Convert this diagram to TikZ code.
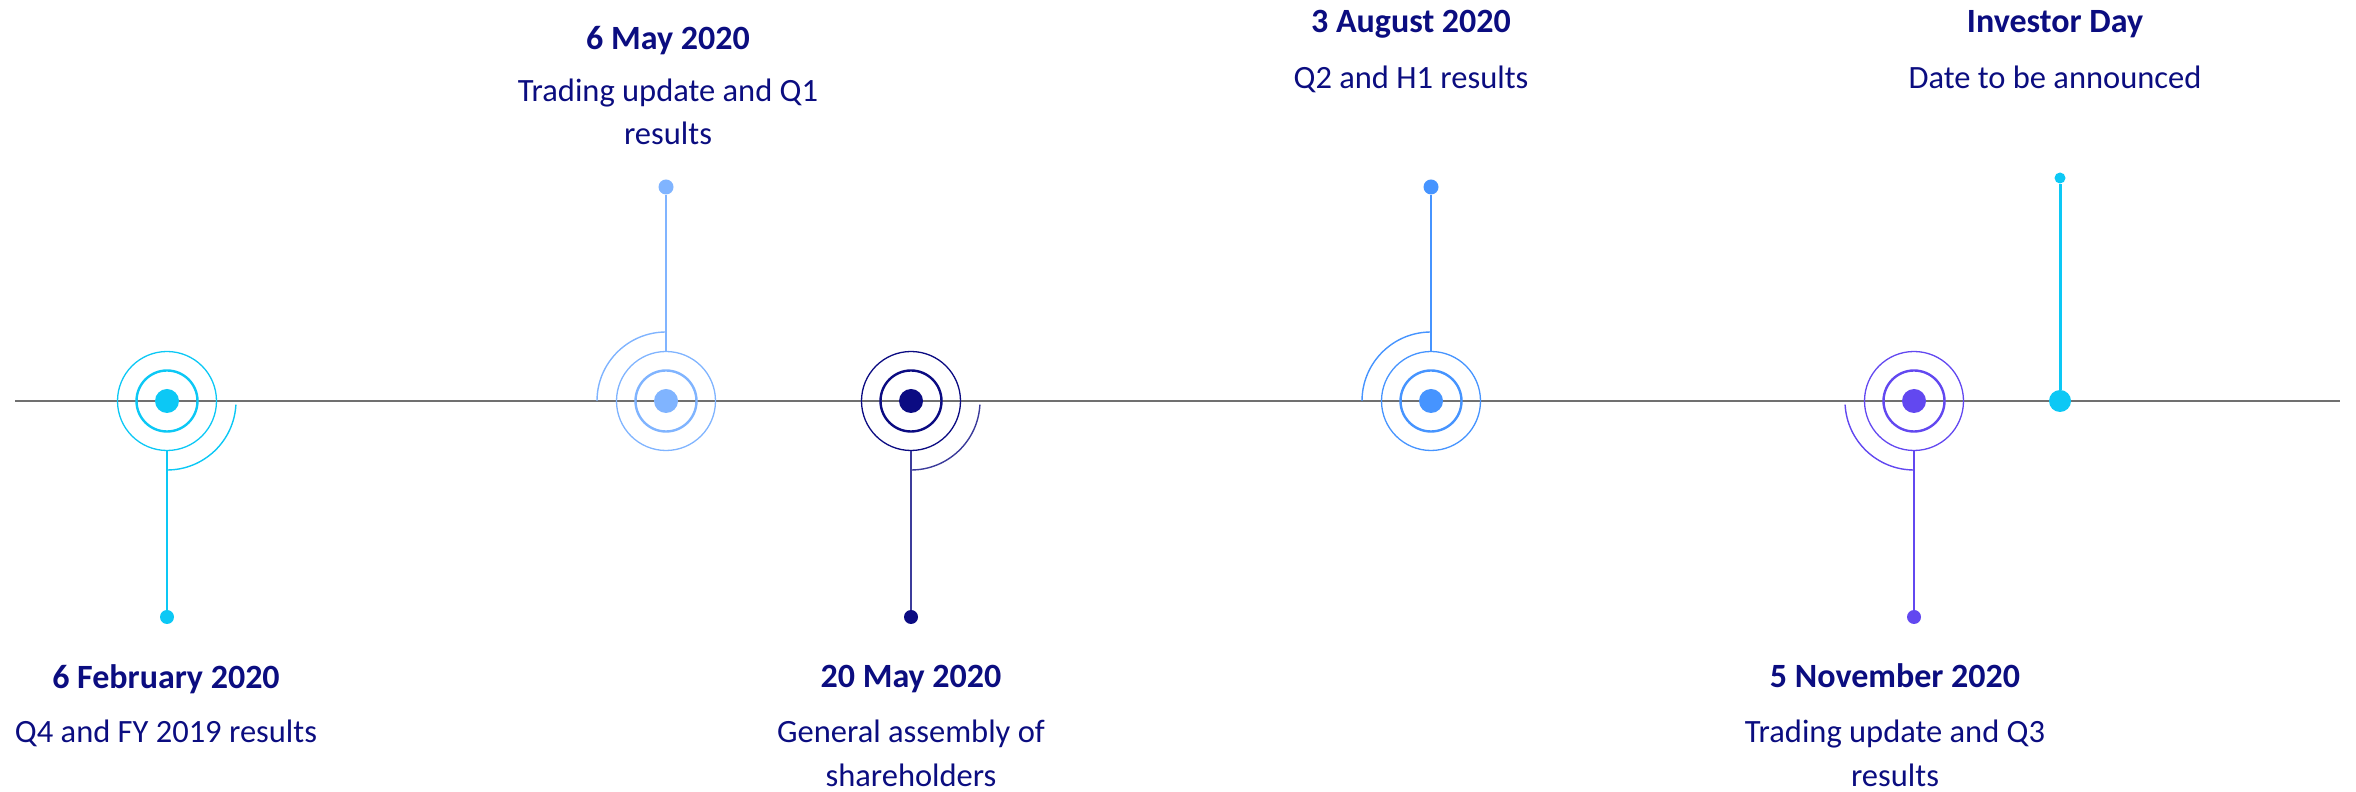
\documentclass[tikz,border=0pt]{standalone}
\usepackage{fontspec}
\setmainfont{Carlito}

% palette
\definecolor{ink}{HTML}{0B0D80}
\definecolor{axisgray}{HTML}{707070}
\definecolor{cyanev}{HTML}{0CC8F5}
\definecolor{skyev}{HTML}{80B4FF}
\definecolor{navyev}{HTML}{0B0B82}
\definecolor{blueev}{HTML}{4694FF}
\definecolor{violetev}{HTML}{6248F0}

\tikzset{
  axisline/.style={draw=axisgray, line width=1.5pt},
  outerring/.style={circle, line width=1.3pt, minimum size=99pt, inner sep=0pt},
  innerring/.style={circle, line width=2.4pt, minimum size=61pt, inner sep=0pt},
  coredot/.style={circle, minimum size=24pt, inner sep=0pt},
  enddot/.style={circle, minimum size=14pt, inner sep=0pt},
  stemline/.style={line width=1.5pt},
  spiral/.style={line width=1.4pt},
  datetitle/.style={font=\bfseries\fontsize{34}{41}\selectfont, text=ink, anchor=base, inner sep=0pt},
  eventtext/.style={font=\fontsize{32.5}{39}\selectfont, text=ink, anchor=base, inner sep=0pt},
}

% concentric marker: outer ring, inner ring and filled core
\newcommand\tlmarker[3]{%
  \node[outerring, draw=#3] (#1) at (#2,391) {};
  \node[innerring, draw=#3] (#1i) at (#2,391) {};
  \node[coredot, fill=#3] (#1c) at (#2,391) {};
}

\begin{document}
\begin{tikzpicture}[x=1pt,y=1pt]
\useasboundingbox (0,0) rectangle (2356,792);

% time axis
\coordinate (axL) at (15,391);
\coordinate (axR) at (2340,391);
\draw[axisline] (axL) -- (axR);

% 6 February 2020
\tlmarker{m1}{167}{cyanev}
\node[enddot, fill=cyanev] (e1) at (167,175) {};
\draw[stemline, cyanev] (m1.south) -- (e1);
\draw[spiral, cyanev] ([shift={(-3:69pt)}]m1.center) arc[start angle=-3, end angle=-90, radius=69pt];

% 6 May 2020
\tlmarker{m2}{666}{skyev}
\node[enddot, fill=skyev, minimum size=15pt] (e2) at (666,605) {};
\draw[stemline, skyev] (m2.north) -- (e2);
\draw[spiral, skyev] ([shift={(180:69pt)}]m2.center) arc[start angle=180, end angle=90, radius=69pt];

% 20 May 2020
\tlmarker{m3}{911}{navyev}
\node[enddot, fill=navyev] (e3) at (911,175) {};
\draw[stemline, navyev!80] (m3.south) -- (e3);
\draw[spiral, navyev!80] ([shift={(-3:69pt)}]m3.center) arc[start angle=-3, end angle=-90, radius=69pt];

% 3 August 2020
\tlmarker{m4}{1431}{blueev}
\node[enddot, fill=blueev, minimum size=15pt] (e4) at (1431,605) {};
\draw[stemline, blueev] (m4.north) -- (e4);
\draw[spiral, blueev] ([shift={(180:69pt)}]m4.center) arc[start angle=180, end angle=90, radius=69pt];

% 5 November 2020
\tlmarker{m5}{1914}{violetev}
\node[enddot, fill=violetev] (e5) at (1914,175) {};
\draw[stemline, violetev] (m5.south) -- (e5);
\draw[spiral, violetev] ([shift={(183:69pt)}]m5.center) arc[start angle=183, end angle=270, radius=69pt];

% Investor Day
\node[circle, fill=cyanev, minimum size=22pt, inner sep=0pt] (m6) at (2060,391) {};
\node[circle, fill=cyanev, minimum size=11pt, inner sep=0pt] (e6) at (2060,614) {};
\draw[cyanev, line width=3pt] (m6) -- (e6);

% labels
\node[datetitle] (t1) at (166,103) {6 February 2020};
\node[eventtext] (d1) at (166,49) {Q4 and FY 2019 results};

\node[datetitle] (t2) at (668,742) {6 May 2020};
\node[eventtext] (d2a) at (668,690) {Trading update and Q1};
\node[eventtext] (d2b) at (668,647) {results};

\node[datetitle] (t3) at (911,104) {20 May 2020};
\node[eventtext] (d3a) at (911,49) {General assembly of};
\node[eventtext] (d3b) at (911,5) {shareholders};

\node[datetitle] (t4) at (1411,759) {3 August 2020};
\node[eventtext] (d4) at (1411,703) {Q2 and H1 results};

\node[datetitle] (t5) at (1895,104) {5 November 2020};
\node[eventtext] (d5a) at (1895,49) {Trading update and Q3};
\node[eventtext] (d5b) at (1895,5) {results};

\node[datetitle] (t6) at (2055,759) {Investor Day};
\node[eventtext] (d6) at (2055,703) {Date to be announced};
\end{tikzpicture}
\end{document}
